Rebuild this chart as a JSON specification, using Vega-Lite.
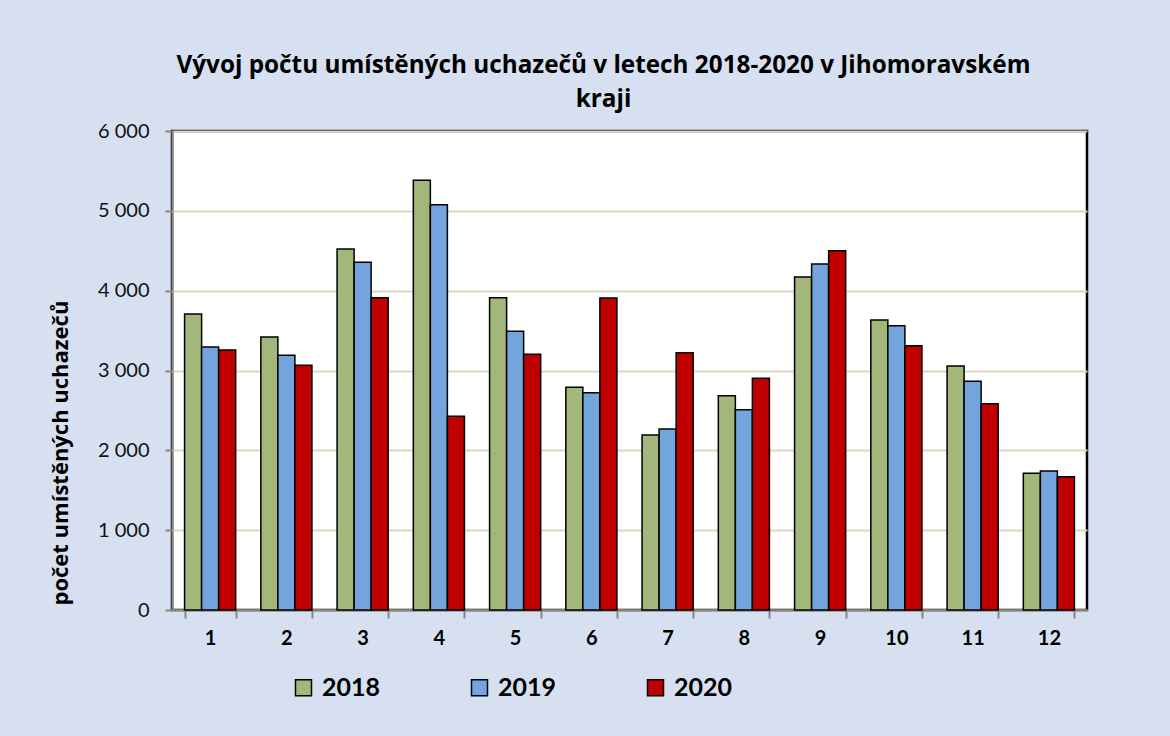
{
  "$schema": "https://vega.github.io/schema/vega-lite/v6.json",
  "width": 915,
  "height": 479,
  "autosize": {"type": "none"},
  "padding": {"left": 172, "top": 131, "right": 83, "bottom": 126},
  "background": "#d7e0f1",
  "title": {
    "text": ["Vývoj počtu umístěných uchazečů v letech 2018-2020 v Jihomoravském", "kraji"],
    "anchor": "middle",
    "frame": "group",
    "dx": -26,
    "offset": 9,
    "font": "Open Sans",
    "fontSize": 24.3,
    "fontWeight": "bold",
    "color": "#000000",
    "lineHeight": 34
  },
  "data": {
    "values": [
      {"month": 1, "year": "2018", "value": 3708},
      {"month": 1, "year": "2019", "value": 3295},
      {"month": 1, "year": "2020", "value": 3257},
      {"month": 2, "year": "2018", "value": 3420},
      {"month": 2, "year": "2019", "value": 3190},
      {"month": 2, "year": "2020", "value": 3065},
      {"month": 3, "year": "2018", "value": 4522},
      {"month": 3, "year": "2019", "value": 4355},
      {"month": 3, "year": "2020", "value": 3912},
      {"month": 4, "year": "2018", "value": 5383},
      {"month": 4, "year": "2019", "value": 5077},
      {"month": 4, "year": "2020", "value": 2426},
      {"month": 5, "year": "2018", "value": 3912},
      {"month": 5, "year": "2019", "value": 3491},
      {"month": 5, "year": "2020", "value": 3203},
      {"month": 6, "year": "2018", "value": 2790},
      {"month": 6, "year": "2019", "value": 2722},
      {"month": 6, "year": "2020", "value": 3908},
      {"month": 7, "year": "2018", "value": 2192},
      {"month": 7, "year": "2019", "value": 2267},
      {"month": 7, "year": "2020", "value": 3223},
      {"month": 8, "year": "2018", "value": 2685},
      {"month": 8, "year": "2019", "value": 2509},
      {"month": 8, "year": "2020", "value": 2902},
      {"month": 9, "year": "2018", "value": 4171},
      {"month": 9, "year": "2019", "value": 4334},
      {"month": 9, "year": "2020", "value": 4501},
      {"month": 10, "year": "2018", "value": 3633},
      {"month": 10, "year": "2019", "value": 3562},
      {"month": 10, "year": "2020", "value": 3311},
      {"month": 11, "year": "2018", "value": 3057},
      {"month": 11, "year": "2019", "value": 2865},
      {"month": 11, "year": "2020", "value": 2584},
      {"month": 12, "year": "2018", "value": 1712},
      {"month": 12, "year": "2019", "value": 1741},
      {"month": 12, "year": "2020", "value": 1670}
    ]
  },
  "mark": {"type": "bar", "stroke": "#000000", "strokeWidth": 1.5},
  "encoding": {
    "x": {
      "field": "month",
      "type": "ordinal",
      "scale": {"paddingInner": 0.33, "paddingOuter": 0.165},
      "axis": {
        "title": null,
        "labelAngle": 0,
        "labelFont": "Lato",
        "labelFontSize": 20,
        "labelFontWeight": "bold",
        "labelColor": "#000000",
        "labelPadding": 10,
        "tickBand": "extent",
        "tickSize": 8,
        "tickColor": "#868686",
        "tickWidth": 2,
        "domainColor": "#868686",
        "domainWidth": 2
      }
    },
    "xOffset": {"field": "year", "type": "nominal", "scale": {"paddingInner": 0, "paddingOuter": 0}},
    "y": {
      "field": "value",
      "type": "quantitative",
      "scale": {"domain": [0, 6000], "nice": false},
      "axis": {
        "title": "počet umístěných  uchazečů",
        "titleFont": "Open Sans",
        "titleFontSize": 22,
        "titleFontWeight": "bold",
        "titleColor": "#000000",
        "titleAngle": 270,
        "titleAlign": "left",
        "titleBaseline": "bottom",
        "titleY": 474,
        "titleX": -100,
        "values": [0, 1000, 2000, 3000, 4000, 5000, 6000],
        "labelExpr": "replace(format(datum.value, ','), ',', ' ')",
        "labelFont": "Lato",
        "labelFontSize": 20,
        "labelColor": "#111111",
        "labelPadding": 16,
        "tickSize": 7,
        "tickColor": "#868686",
        "tickWidth": 2,
        "domainColor": "#868686",
        "domainWidth": 2,
        "grid": true,
        "gridColor": "#dcd8c2",
        "gridWidth": 2
      }
    },
    "color": {
      "field": "year",
      "type": "nominal",
      "scale": {"domain": ["2018", "2019", "2020"], "range": ["#a3b77a", "#74a4dc", "#c00000"]},
      "legend": {
        "title": null,
        "orient": "none",
        "direction": "horizontal",
        "legendX": 119,
        "legendY": 544,
        "symbolType": "square",
        "symbolSize": 256,
        "symbolStrokeColor": "#000000",
        "symbolStrokeWidth": 1.5,
        "symbolOpacity": 1,
        "labelFont": "Lato",
        "labelFontSize": 25,
        "labelFontWeight": "bold",
        "labelColor": "#000000",
        "labelOffset": 6,
        "columnPadding": 86
      }
    }
  },
  "config": {
    "view": {"fill": "#ffffff", "stroke": "#000000", "strokeWidth": 2.5}
  }
}
